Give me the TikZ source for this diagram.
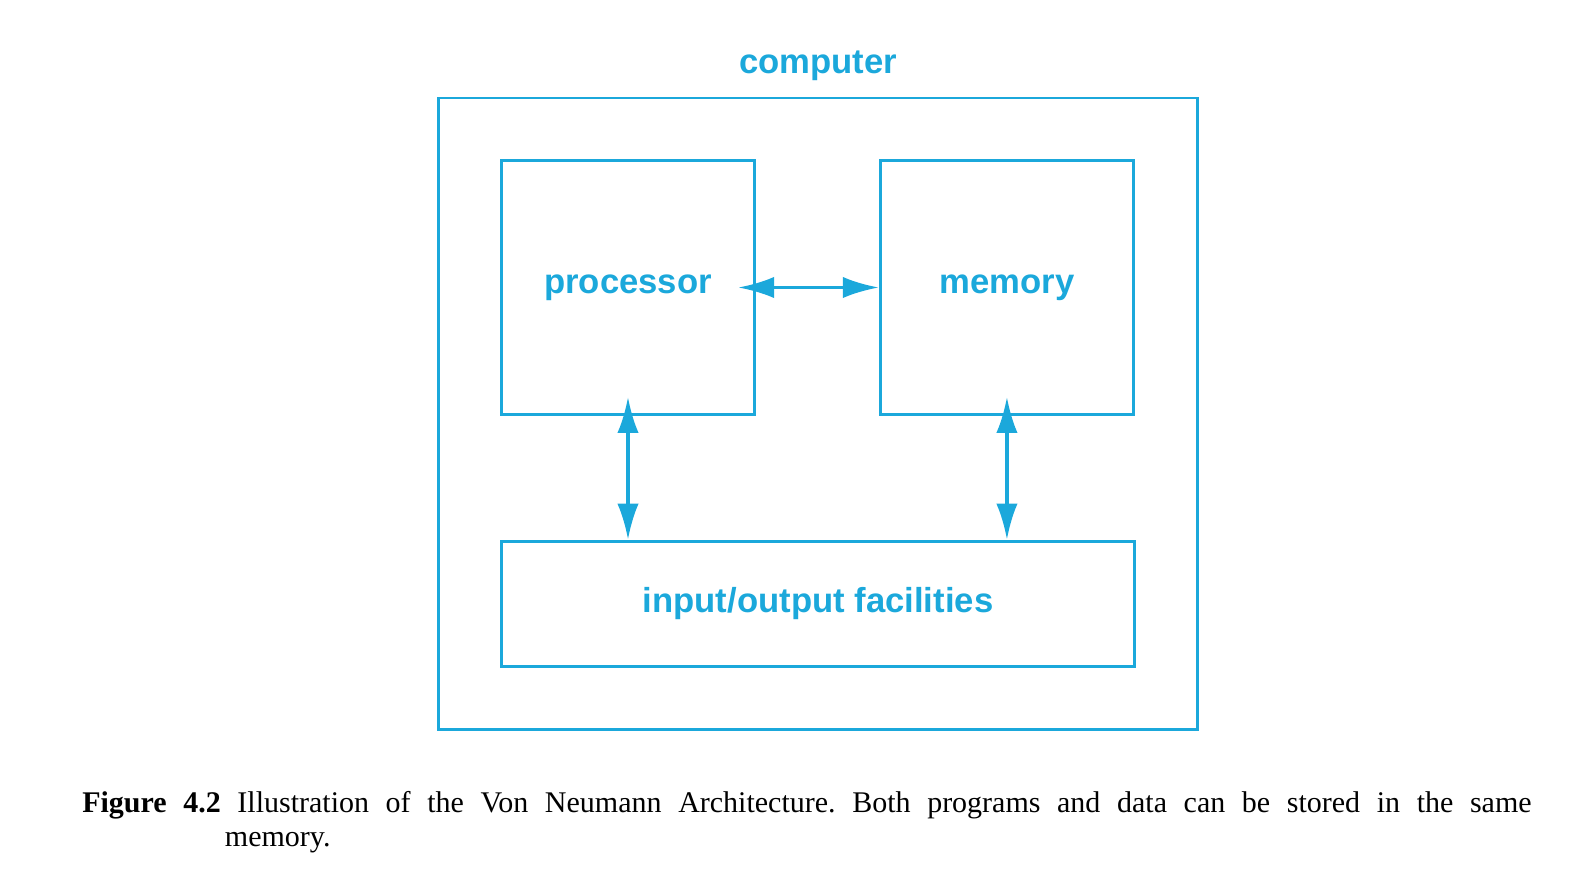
\documentclass[tikz,border=0pt]{standalone}
\usepackage{fontspec}
\setmainfont{Liberation Serif}
\newfontfamily\diagfont{Liberation Sans}
\usetikzlibrary{positioning, fit, arrows.meta}
\usepackage{xcolor}
\definecolor{vncyan}{RGB}{27,168,219}
\tikzstyle{busarrow} = [
    line width=2.6pt,
    <->,
    >={Latex[length=27pt,width=16pt]},
    draw=vncyan
]
\tikzstyle{unit} = [rectangle, draw=vncyan, line width=2.2pt, minimum width=190pt, minimum height=190pt, anchor=center]

\begin{document}
\begin{tikzpicture}[
    x=0.75pt, y=0.75pt,
    node distance=93pt and 92pt,
    unitText/.style={
        text=vncyan,
        font={\diagfont\bfseries\fontsize{26}{30}\selectfont}
    },
    frame/.style={
        rectangle,
        draw=vncyan,
        line width=2.2pt,
        inner sep=46pt
    },
    caption/.style={
        inner sep=0pt,
        font={\fontsize{22.5}{25.5}\selectfont\frenchspacing}
    }
]
\useasboundingbox (0,0) rectangle (1588,889);

% Units
\node[unit, unitText] (proc) at (628,601.5) {processor};
\node[unit, unitText, right=of proc] (mem) {memory};
\node[unit, unitText, minimum width=475pt, minimum height=94pt, anchor=north west]
    (io) at ([yshift=-93pt]proc.south west) {input/output facilities};

% Computer frame
\node[frame, fit=(proc)(mem)(io)] (computer) {};
\node[unitText, anchor=base] (title) at ([yshift=17pt]computer.north) {computer};

% Arrows
\draw[busarrow] ([xshift=-13.5pt]proc.east) -- (mem.west);
\draw[busarrow] ([yshift=14pt]proc.south) -- (proc.south |- io.north);
\draw[busarrow] ([yshift=14pt]mem.south) -- (mem.south |- io.north);

% Caption
\node[caption, anchor=base west] (cap) at (82,77) {\parbox[t]{1087pt}{\noindent\hangindent=107pt\hangafter=1
    \textbf{Figure 4.2} Illustration of the Von Neumann Architecture. Both programs and data can be stored in the same\linebreak memory.}};

\end{tikzpicture}
\end{document}
